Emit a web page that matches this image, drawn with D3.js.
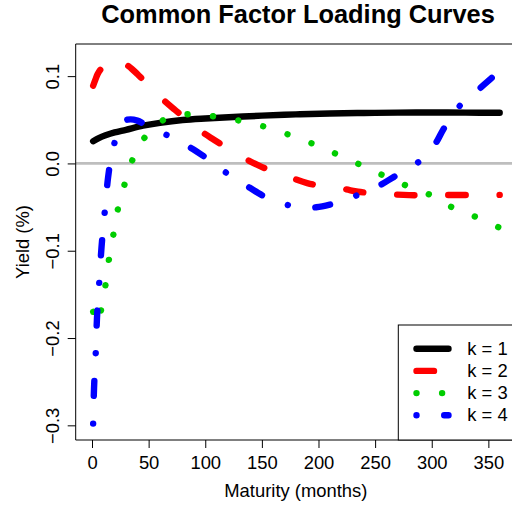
<!DOCTYPE html>
<html><head><meta charset="utf-8">
<script src="https://cdn.jsdelivr.net/npm/d3@7"></script>
<style>
body{margin:0;background:#fff}
svg{display:block}
text{font-family:"Liberation Sans",Arial,Helvetica,sans-serif;fill:#000}
</style>
</head><body>
<svg id="chart" width="512" height="508"></svg>
<script>
// ---------- data ----------
const chartTitle = "Common Factor Loading Curves";
const xAxisLabel = "Maturity (months)";
const yAxisLabel = "Yield (%)";
const xTickValues = [0, 50, 100, 150, 200, 250, 300, 350];
const yTickValues = [-0.3, -0.2, -0.1, 0.0, 0.1];
const yTickLabels = ["\u22120.3", "\u22120.2", "\u22120.1", "0.0", "0.1"];
const seriesNames = ["k = 1", "k = 2", "k = 3", "k = 4"];

const k1Maturity = [1, 6, 12, 20, 30, 45, 60, 80, 100, 125, 150, 180, 210, 240, 270, 300, 330, 360];
const k1Loading  = [0.0255, 0.0290, 0.0322, 0.0355, 0.0385, 0.0432, 0.0465, 0.0497, 0.0515, 0.0532, 0.0547, 0.0562, 0.0572, 0.0578, 0.0582, 0.0583, 0.0582, 0.0580];

const k2Maturity = [1, 3, 5, 8, 12, 16, 20, 25, 30, 35, 40, 50, 63, 73, 85, 97, 108, 122, 136, 147, 160, 177, 190, 205, 222, 235, 250, 267, 280, 295, 310, 326, 340, 360];
const k2Loading  = [0.089, 0.096, 0.1025, 0.1085, 0.114, 0.1175, 0.119, 0.118, 0.1135, 0.1085, 0.1025, 0.0895, 0.0728, 0.0616, 0.049, 0.0362, 0.0269, 0.0155, 0.0049, -0.0022, -0.0095, -0.017, -0.0225, -0.0265, -0.0292, -0.0324, -0.0342, -0.0356, -0.0363, -0.0364, -0.0362, -0.0362, -0.0362, -0.0360];

const k3Maturity = [1, 4, 8, 12, 15, 19, 23, 29, 36, 47, 64, 86, 108, 131, 153, 174, 195, 216, 237, 257, 278, 299, 319, 340, 360];
const k3Loading  = [-0.170, -0.183, -0.168, -0.1386, -0.1096, -0.0806, -0.0515, -0.0229, 0.0049, 0.0305, 0.0504, 0.0565, 0.0538, 0.0488, 0.0419, 0.0328, 0.0225, 0.0107, -0.0016, -0.0137, -0.0257, -0.0363, -0.0509, -0.0619, -0.0738];

const k4Maturity = [1, 1.8, 3.3, 4.4, 6.4, 8.4, 11.2, 14.2, 17, 20, 24, 29, 34, 40, 47, 55, 66, 77, 87, 98, 108, 118, 128, 139, 150, 161, 173, 185, 198, 210, 222, 233, 245, 256, 267, 278, 288, 296, 304, 310, 317, 324, 334, 343, 352, 360];
const k4Loading  = [-0.298, -0.257, -0.217, -0.177, -0.136, -0.096, -0.056, -0.016, 0.008, 0.0242, 0.040, 0.049, 0.0505, 0.049, 0.0445, 0.039, 0.0325, 0.025, 0.018, 0.0089, 0.0000, -0.0102, -0.019, -0.0277, -0.0363, -0.043, -0.0477, -0.0505, -0.0502, -0.0472, -0.0425, -0.037, -0.030, -0.0237, -0.0151, -0.0075, 0.0013, 0.012, 0.0243, 0.0385, 0.052, 0.065, 0.076, 0.0865, 0.0969, 0.106];

// ---------- styles ----------
const seriesColors = ["#000000", "#FF0000", "#00CD00", "#0000FF"];
const seriesDash = [null, "17.5 33.7", "0.01 25.59", "0.01 27.7 15 27.7"];
const lineW = 6.4;

// ---------- layout ----------
const plot = {left: 75.7, right: 516, top: 44, bottom: 440};
const svg = d3.select("#chart");

const x = d3.scaleLinear().domain([-14.4, 374.4]).range([plot.left, plot.right]);
const y = d3.scaleLinear().domain([-0.3168, 0.1368]).range([plot.bottom, plot.top]);

const series = [
  d3.zip(k1Maturity, k1Loading),
  d3.zip(k2Maturity, k2Loading),
  d3.zip(k3Maturity, k3Loading),
  d3.zip(k4Maturity, k4Loading)
];

const clip = svg.append("defs").append("clipPath").attr("id", "pc")
  .append("rect").attr("x", plot.left).attr("y", plot.top)
  .attr("width", plot.right - plot.left).attr("height", plot.bottom - plot.top);

const g = svg.append("g").attr("clip-path", "url(#pc)");

// zero line
g.append("line")
  .attr("x1", plot.left).attr("x2", plot.right)
  .attr("y1", y(0)).attr("y2", y(0))
  .attr("stroke", "#BEBEBE").attr("stroke-width", 2.7);

const line = d3.line().x(d => x(d[0])).y(d => y(d[1])).curve(d3.curveCatmullRom.alpha(0.5));

series.forEach((s, i) => {
  const p = g.append("path").datum(s)
    .attr("d", line)
    .attr("fill", "none")
    .attr("stroke", seriesColors[i])
    .attr("stroke-width", lineW)
    .attr("stroke-linecap", "round")
    .attr("stroke-linejoin", "round");
  if (seriesDash[i]) p.attr("stroke-dasharray", seriesDash[i]);
});

// box (left, top, bottom; right edge lies outside the image)
svg.append("path")
  .attr("d", `M${plot.right},${plot.top}H${plot.left}V${plot.bottom}H${plot.right}`)
  .attr("fill", "none").attr("stroke", "#000").attr("stroke-width", 1);

// x axis
const xAxis = d3.axisBottom(x).tickValues(xTickValues).tickSize(8).tickPadding(0).tickFormat(d3.format("d"));
const gx = svg.append("g").attr("transform", `translate(0,${plot.bottom})`).call(xAxis);
gx.select(".domain").remove();
gx.selectAll("line").attr("stroke", "#000");
gx.selectAll("text").attr("font-size", 18.4).attr("dy", null).attr("y", 29)
  .style("font-family", '"Liberation Sans",Arial,sans-serif').attr("fill", "#000");

// y axis
const yAxis = d3.axisLeft(y).tickValues(yTickValues).tickSize(8)
  .tickFormat((d, i) => yTickLabels[i]);
const gy = svg.append("g").attr("transform", `translate(${plot.left},0)`).call(yAxis);
gy.select(".domain").remove();
gy.selectAll("line").attr("stroke", "#000");
gy.selectAll("text")
  .attr("font-size", 18.4).attr("x", null).attr("dy", null)
  .attr("text-anchor", "middle")
  .attr("transform", `translate(${59.3 - plot.left},0) rotate(-90)`)
  .style("font-family", '"Liberation Sans",Arial,sans-serif').attr("fill", "#000");

// axis titles
svg.append("text").attr("x", (plot.left + plot.right) / 2).attr("y", 497)
  .attr("text-anchor", "middle").attr("font-size", 18.4).text(xAxisLabel);
svg.append("text")
  .attr("transform", `translate(28.5,${(plot.top + plot.bottom) / 2}) rotate(-90)`)
  .attr("text-anchor", "middle").attr("font-size", 18.4).text(yAxisLabel);

// title
svg.append("text").attr("x", 298).attr("y", 23)
  .attr("text-anchor", "middle").attr("font-size", 25.4).attr("font-weight", "bold")
  .text(chartTitle);

// legend
const leg = {left: 398.3, top: 325, bottom: 440, x1: 416.5, x2: 448.5, tx: 467.3, row0: 348.7, step: 22.2};
svg.append("rect").attr("x", leg.left).attr("y", leg.top)
  .attr("width", plot.right - leg.left).attr("height", leg.bottom - leg.top)
  .attr("fill", "#fff").attr("stroke", "#000").attr("stroke-width", 1);
seriesNames.forEach((name, i) => {
  const yy = leg.row0 + i * leg.step;
  const l = svg.append("line").attr("x1", leg.x1).attr("x2", leg.x2).attr("y1", yy).attr("y2", yy)
    .attr("stroke", seriesColors[i]).attr("stroke-width", lineW).attr("stroke-linecap", "round");
  if (seriesDash[i]) l.attr("stroke-dasharray", seriesDash[i]);
  svg.append("text").attr("x", leg.tx).attr("y", yy + 6).attr("font-size", 18.4).text(name);
});
</script>
</body></html>
